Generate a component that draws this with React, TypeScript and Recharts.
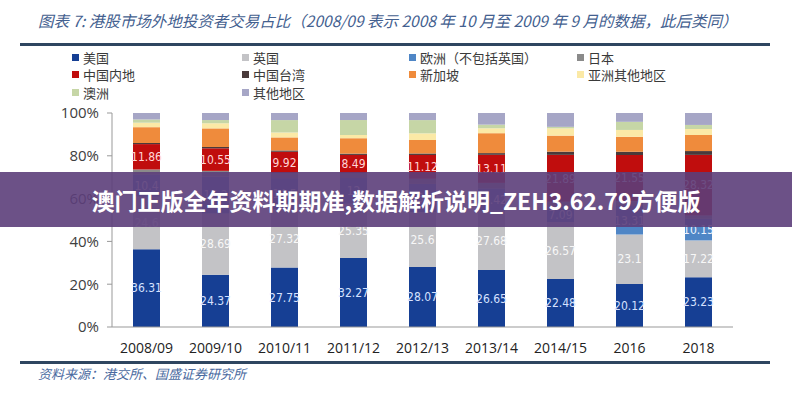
import React from "react";
import { BarChart, Bar, XAxis, YAxis, LabelList } from "recharts";

const categories = ["2008/09", "2009/10", "2010/11", "2011/12", "2012/13", "2013/14", "2014/15", "2016", "2018"];
const us = [36.31, 24.37, 27.75, 32.27, 28.07, 26.65, 22.48, 20.12, 23.23];
const uk = [24.6, 28.69, 27.32, 25.35, 25.6, 27.68, 26.57, 23.1, 17.22];
const europe = [10.4, 17.2, 14.5, 12.0, 13.2, 10.42, 7.09, 13.31, 10.15];
const japan = [2.3, 2.7, 2.4, 2.3, 2.4, 2.6, 2.4, 2.3, 1.5];
const mainland = [11.86, 10.55, 9.92, 8.49, 11.12, 13.11, 21.89, 21.55, 28.32];
const taiwan = [0.5, 0.6, 0.6, 0.6, 0.7, 0.8, 1.5, 1.5, 1.8];
const singapore = [7.4, 8.7, 6.1, 7.2, 6.3, 9.3, 7.5, 7.0, 7.5];
const asiaOther = [2.1, 2.4, 2.3, 1.5, 3.1, 2.3, 3.4, 3.2, 2.8];
const australia = [1.5, 1.5, 5.8, 7.0, 6.2, 1.7, 0.7, 3.8, 1.9];
const others = [3.03, 3.29, 3.31, 3.29, 3.31, 5.44, 6.47, 4.12, 5.58];
const yTicks = [0, 20, 40, 60, 80, 100];

const series = [
  { key: "us", name: "美国", color: "#163f94", values: us, label: "#d6e2ff" },
  { key: "uk", name: "英国", color: "#c3c3c6", values: uk, label: "#f7f7f7" },
  { key: "europe", name: "欧洲（不包括英国）", color: "#4f86c6", values: europe, label: "#eef4ff" },
  { key: "japan", name: "日本", color: "#8a8a8a", values: japan },
  { key: "mainland", name: "中国内地", color: "#c00d0d", values: mainland, label: "#ffd6d6" },
  { key: "taiwan", name: "中国台湾", color: "#4a3a3a", values: taiwan },
  { key: "singapore", name: "新加坡", color: "#ef8b3c", values: singapore },
  { key: "asiaOther", name: "亚洲其他地区", color: "#fbe9a6", values: asiaOther },
  { key: "australia", name: "澳洲", color: "#c6d6a6", values: australia },
  { key: "others", name: "其他地区", color: "#a6a6c6", values: others },
];

const data = categories.map((c, i) => {
  const row: any = { name: c };
  series.forEach((s) => (row[s.key] = s.values[i]));
  return row;
});

// legend slots: [column x, row y]
const legendPos = [
  [72, 57], [242, 57], [409, 57], [577, 57],
  [72, 74], [242, 74], [409, 74], [577, 74],
  [72, 92], [242, 92],
];
const legendOrder = ["us", "uk", "europe", "japan", "mainland", "taiwan", "singapore", "asiaOther", "australia", "others"];

const cjk = '"Noto Sans CJK SC", "Noto Sans", sans-serif';

export default function App() {
  return (
    <div style={{ position: "absolute", left: 0, top: 0, width: 792, height: 400, background: "#fff", overflow: "hidden", fontFamily: cjk }}>
      <div style={{ position: "absolute", left: 38, top: 9, fontSize: 15.5, fontStyle: "italic", color: "#43608f", whiteSpace: "nowrap" }}>
        图表 7: 港股市场外地投资者交易占比（2008/09 表示 2008 年 10 月至 2009 年 9 月的数据，此后类同）
      </div>
      <div style={{ position: "absolute", left: 20, top: 43, width: 750, height: 3, background: "#2f4660" }} />

      {legendOrder.map((k, i) => {
        const s = series.find((x) => x.key === k)!;
        const [lx, ly] = legendPos[i];
        return (
          <div key={k} style={{ position: "absolute", left: lx, top: ly - 9, display: "flex", alignItems: "center", fontSize: 13, color: "#3a3a3a", whiteSpace: "nowrap" }}>
            <span style={{ display: "inline-block", width: 7, height: 7, background: s.color, marginRight: 4 }} />
            {s.name}
          </div>
        );
      })}

      <div style={{ position: "absolute", left: 0, top: 0 }}>
        <BarChart width={792} height={400} data={data} margin={{ top: 113, right: 59, left: 62, bottom: 43 }} barSize={27}>
          <XAxis
            dataKey="name"
            height={30}
            axisLine={{ stroke: "#999" }}
            tickLine={false}
            tick={{ fontSize: 14, fill: "#222", fontFamily: '"Open Sans", sans-serif' }}
            tickMargin={10}
            interval={0}
          />
          <YAxis
            width={50}
            domain={[0, 100]}
            ticks={yTicks}
            tickFormatter={(v) => `${v}%`}
            axisLine={{ stroke: "#999" }}
            tickLine={{ stroke: "#999" }}
            tickSize={5}
            tickMargin={8}
            tick={{ fontSize: 15, fill: "#404040", fontFamily: '"Open Sans", sans-serif' }}
          />
          {series.map((s) => (
            <Bar key={s.key} dataKey={s.key} stackId="a" fill={s.color} isAnimationActive={false}>
              {s.label ? (
                <LabelList
                  dataKey={s.key}
                  position="center"
                  fill={s.label}
                  fontSize={12}
                  fontFamily='"Liberation Sans Narrow", "DejaVu Sans Condensed", sans-serif'
                />
              ) : null}
            </Bar>
          ))}
        </BarChart>
      </div>

      <div style={{ position: "absolute", left: 20, top: 361, width: 750, height: 3, background: "#2f4660" }} />
      <div style={{ position: "absolute", left: 38, top: 364, fontSize: 13, fontStyle: "italic", color: "#4a6aa0", whiteSpace: "nowrap" }}>
        资料来源：港交所、国盛证券研究所
      </div>

      <div
        style={{
          position: "absolute", left: 0, top: 172, width: 792, height: 55,
          background: "rgba(92, 62, 122, 0.9)", display: "flex", alignItems: "center", justifyContent: "center",
          color: "#fff", fontWeight: 700, fontSize: 23, whiteSpace: "nowrap",
        }}
      >
        澳门正版全年资料期期准,数据解析说明_ZEH3.62.79方便版
      </div>
    </div>
  );
}
